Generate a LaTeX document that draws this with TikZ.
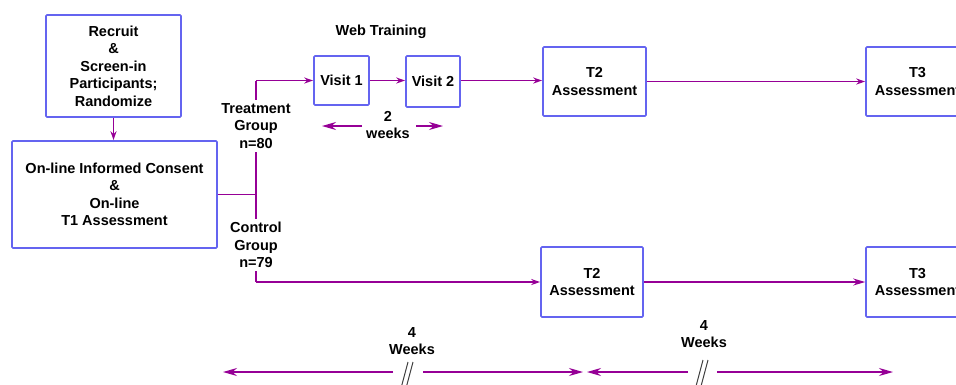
\documentclass[tikz,border=0pt]{standalone}
\usepackage{fontspec}
\setmainfont{Liberation Sans}
\usetikzlibrary{arrows.meta,calc}
\definecolor{boxblue}{RGB}{100,100,240}
\definecolor{flow}{RGB}{150,0,150}

\begin{document}
\begin{tikzpicture}[x=1pt,y=-1pt,
  txt/.style={font=\bfseries\fontsize{14.5}{17.5}\selectfont, align=center, inner sep=0pt},
  box/.style={txt, draw=boxblue, line width=1.6pt, rounded corners=1pt, fill=white},
  flowline/.style={draw=flow, line width=1.3pt},
  arr/.style={flowline, -{Stealth[length=9pt,width=6pt]}},
  midarr/.style={flowline, -{Stealth[length=12pt,width=7pt]}},
  bigarr/.style={flowline, -{Stealth[length=14pt,width=8pt]}},
  brk/.style={draw=black!75, line width=1pt}]
\useasboundingbox (0,0) rectangle (956,384);
\clip (0,0) rectangle (956,384);

% boxes
\node[box, minimum width=135pt, minimum height=102pt] (rec) at (113.5,66)
  {Recruit\\\&\\Screen-in\\Participants;\\Randomize};
\node[box, minimum width=205pt, minimum height=107pt] (con) at (114.5,194.5)
  {On-line Informed Consent\\\&\\On-line\\T1 Assessment};
\node[box, minimum width=55pt, minimum height=49pt] (v1) at (341.5,80.5) {Visit 1};
\node[box, minimum width=54pt, minimum height=51pt] (v2) at (433,81.5) {Visit 2};
\node[box, minimum width=103pt, minimum height=69pt] (t2a) at (594.5,81.5) {T2\\Assessment};
\node[box, minimum width=103pt, minimum height=69pt] (t3a) at (917.5,81.5) {T3\\Assessment};
\node[box, minimum width=102pt, minimum height=70pt] (t2b) at (592,282) {T2\\Assessment};
\node[box, minimum width=103pt, minimum height=70pt] (t3b) at (917.5,282) {T3\\Assessment};

\node[txt] (web) at (381,32) {Web Training};

% randomisation split
\coordinate (up) at (256,80.5);
\coordinate (down) at (256,282);
\draw[arr] (rec.south) -- (rec.south |- con.north);
\draw[flowline] (con.east) -- (con.east -| up);
\draw[flowline] (up) -- (down);
\draw[arr] (up) -- (v1.west);
\draw[arr] (down) -- (t2b.west);
\node[txt, fill=white, inner sep=3pt] (tg) at (256,126) {Treatment\\Group\\n=80};
\node[txt, fill=white, inner sep=3pt] (cg) at (256,245) {Control\\Group\\n=79};

% treatment and control paths
\draw[arr] (v1.east) -- (v2.west |- v1.east);
\draw[arr] (v2.east |- v1.east) -- (t2a.west |- v1.east);
\draw[arr] (t2a.east) -- (t3a.west);
\draw[midarr] (t2b.east) -- (t3b.west);

% two-week span
\node[txt] (wk) at (388,125) {2\\weeks};
\coordinate (wkl0) at (362,126);
\coordinate (wkl1) at (322,126);
\coordinate (wkr0) at (416,126);
\coordinate (wkr1) at (443,126);
\draw[bigarr] (wkl0) -- (wkl1);
\draw[bigarr] (wkr0) -- (wkr1);

% four-week spans
\node[txt] (wa) at (412,341) {4\\Weeks};
\node[txt] (wb) at (704,334) {4\\Weeks};
\coordinate (a0) at (393,372);
\coordinate (a1) at (223,372);
\coordinate (a2) at (423,372);
\coordinate (a3) at (583,372);
\coordinate (b0) at (688,372);
\coordinate (b1) at (587,372);
\coordinate (b2) at (717,372);
\coordinate (b3) at (893,372);
\draw[bigarr] (a0) -- (a1);
\draw[bigarr] (a2) -- (a3);
\draw[bigarr] (b0) -- (b1);
\draw[bigarr] (b2) -- (b3);

% break marks
\coordinate (ka) at (408,362);
\coordinate (kb) at (703,360);
\draw[brk] (ka) -- ++(-8,30);
\draw[brk] ($(ka)+(5,0)$) -- ++(-8,30);
\draw[brk] (kb) -- ++(-8,30);
\draw[brk] ($(kb)+(5,0)$) -- ++(-8,30);
\end{tikzpicture}
\end{document}
